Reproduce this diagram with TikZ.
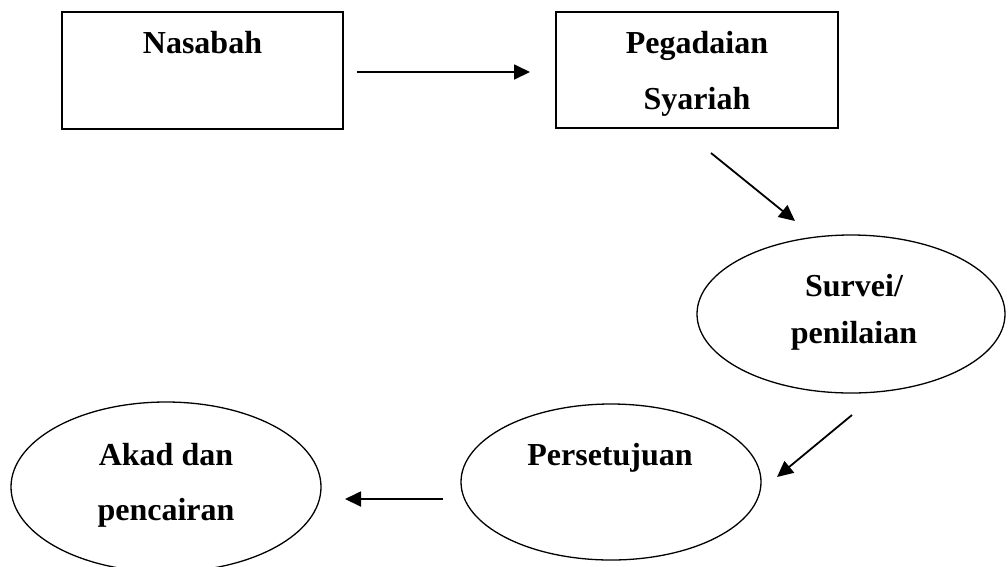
\documentclass[tikz,border=0pt]{standalone}
\usepackage{fontspec}
\setmainfont{Liberation Serif}
\usetikzlibrary{arrows.meta,shapes.geometric}
\begin{document}
\begin{tikzpicture}[x=1pt,y=-1pt,
  box/.style={draw,line width=2pt,inner sep=0pt},
  oval/.style={draw,ellipse,line width=1.3pt,inner sep=0pt},
  lbl/.style={font=\bfseries\fontsize{32}{56}\selectfont,align=center,anchor=north,inner sep=0pt},
  arr/.style={line width=1.8pt,-{Triangle[length=16pt,width=15pt]}}]
\useasboundingbox (0,0) rectangle (1008,566);
% shapes
\node[box,minimum width=281pt,minimum height=117pt] (nasabah) at (202.5,70.5) {};
\node[box,minimum width=282pt,minimum height=116pt] (pegadaian) at (697,70) {};
\node[oval,minimum width=308pt,minimum height=158pt] (survei) at (851,314) {};
\node[oval,minimum width=300pt,minimum height=156pt] (setuju) at (611,482) {};
\node[oval,minimum width=310pt,minimum height=170pt] (akad) at (166,487) {};
% labels
\node[lbl] (tnasabah) at (202.5,31) {Nasabah};
\node[lbl] (tpegadaian) at (697,31) {Pegadaian\\Syariah};
\node[lbl,font=\bfseries\fontsize{32}{47}\selectfont] (tsurvei) at (854,274) {Survei/\\penilaian};
\node[lbl] (tsetuju) at (610,443) {Persetujuan};
\node[lbl,font=\bfseries\fontsize{32}{55}\selectfont] (takad) at (166,443) {Akad dan\\pencairan};
% connectors
\coordinate (a1s) at (357,72);  \coordinate (a1e) at (530,72);
\coordinate (a2s) at (711,153); \coordinate (a2e) at (795,221);
\coordinate (a3s) at (852,415); \coordinate (a3e) at (777,477);
\coordinate (a4s) at (443,499); \coordinate (a4e) at (345,499);
\draw[arr] (a1s) -- (a1e);
\draw[arr] (a2s) -- (a2e);
\draw[arr] (a3s) -- (a3e);
\draw[arr] (a4s) -- (a4e);
\end{tikzpicture}
\end{document}
